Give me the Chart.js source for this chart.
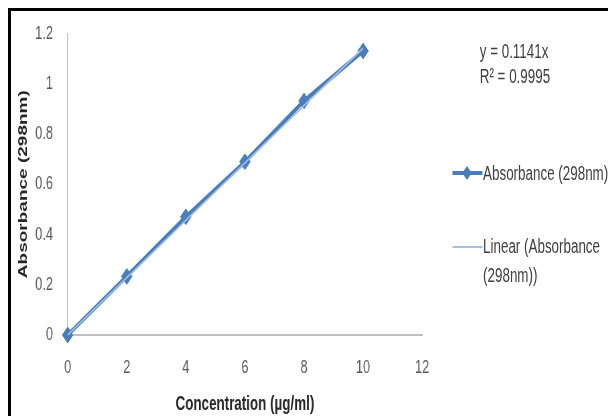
<!DOCTYPE html>
<html>
<head>
<meta charset="utf-8">
<script src="https://cdn.jsdelivr.net/npm/chart.js@4.4.0/dist/chart.umd.min.js"></script>
<style>
  html, body { margin: 0; padding: 0; background: #fff; width: 608px; height: 416px; overflow: hidden; }
  #frame { position: absolute; left: 8px; top: 8px; width: 700px; height: 500px; border-left: 3px solid #000; border-top: 3px solid #000; }
  /* the whole picture is squeezed horizontally, so draw wide and scale down */
  #stage { position: absolute; left: 0; top: 0; width: 908px; height: 416px; transform: scaleX(0.67); transform-origin: 0 0;
           font-family: "Liberation Sans", Arial, sans-serif; color: #404040; }
  #chart { position: absolute; left: 0; top: 0; }
  .txt { position: absolute; font-size: 20px; white-space: nowrap; }
  .eq { left: 716px; top: 39px; line-height: 25px; }
  .lg1 { left: 721px; top: 159px; line-height: 28px; }
  .lg2 { left: 721px; top: 232px; line-height: 29px; }
  .swatch { position: absolute; }
</style>
</head>
<body>
<div id="stage">
  <canvas id="chart" width="908" height="416"></canvas>
  <div class="txt eq">y = 0.1141x<br>R² = 0.9995</div>
  <div class="swatch" style="left:675px; top:171px; width:45px; height:4px; background:#4a7ebb;"></div>
  <div class="swatch" style="left:692px; top:168px; width:10px; height:10px; background:#4a7ebb; transform:rotate(45deg);"></div>
  <div class="txt lg1">Absorbance (298nm)</div>
  <div class="swatch" style="left:675px; top:246px; width:45px; height:2px; background:#a3bfe4;"></div>
  <div class="txt lg2">Linear (Absorbance<br>(298nm))</div>
</div>
<div id="frame"></div>
<script>
// Data
const concentration = [0, 2, 4, 6, 8, 10];
const absorbance = [0, 0.233, 0.47, 0.689, 0.931, 1.13];
// Trend line y = 0.1141x over the data range
const trendX = [0, 10];
const trendY = [0, 1.141];
const xTicks = [0, 2, 4, 6, 8, 10, 12];
const yTicks = [0, 0.2, 0.4, 0.6, 0.8, 1, 1.2];

const seriesColor = '#4a7ebb';
const trendColor = '#a3bfe4';
const tickFont = { family: '"Liberation Sans", Arial, sans-serif', size: 19 };

const ctx = document.getElementById('chart').getContext('2d');
new Chart(ctx, {
    type: 'scatter',
    data: {
        datasets: [
            {
                label: 'Linear (Absorbance (298nm))',
                data: trendX.map((x, i) => ({ x: x, y: trendY[i] })),
                showLine: true,
                borderColor: trendColor,
                borderWidth: 2,
                pointRadius: 0,
                order: 0,
                clip: false
            },
            {
                label: 'Absorbance (298nm)',
                data: concentration.map((x, i) => ({ x: x, y: absorbance[i] })),
                showLine: true,
                borderColor: seriesColor,
                backgroundColor: seriesColor,
                borderWidth: 4.5,
                pointStyle: 'rectRot',
                pointRadius: 8,
                pointBorderWidth: 1,
                order: 1,
                clip: false
            }
        ]
    },
    options: {
        responsive: false,
        animation: false,
        devicePixelRatio: 1,
        layout: { padding: { left: 0, top: 30, right: 278, bottom: 0 } },
        plugins: { legend: { display: false }, tooltip: { enabled: false } },
        scales: {
            x: {
                type: 'linear', min: 0, max: 12,
                afterBuildTicks: s => { s.ticks = xTicks.map(v => ({ value: v })); },
                afterFit: s => { s.height = 81; },
                grid: { display: false, drawTicks: false },
                border: { display: true, color: '#c0c0c0', width: 2 },
                ticks: { color: '#595959', font: tickFont, padding: 21, callback: v => String(v) },
                title: {
                    display: true, text: 'Concentration (µg/ml)', color: '#262626',
                    font: { family: '"Liberation Sans", Arial, sans-serif', size: 20, weight: 'bold' },
                    padding: { top: 0, bottom: 0 }
                }
            },
            y: {
                type: 'linear', min: 0, max: 1.2,
                afterBuildTicks: s => { s.ticks = yTicks.map(v => ({ value: v })); },
                afterFit: s => { s.width = 101; },
                grid: { display: false, drawTicks: false },
                border: { display: true, color: '#c0c0c0', width: 1.5 },
                ticks: { color: '#595959', font: tickFont, padding: 22, callback: v => String(v) },
                title: {
                    display: true, text: 'Absorbance (298nm)', color: '#262626',
                    font: { family: '"Liberation Sans", Arial, sans-serif', size: 19, weight: 'bold' },
                    padding: { top: 23, bottom: 0 }
                }
            }
        }
    }
});
</script>
</body>
</html>
